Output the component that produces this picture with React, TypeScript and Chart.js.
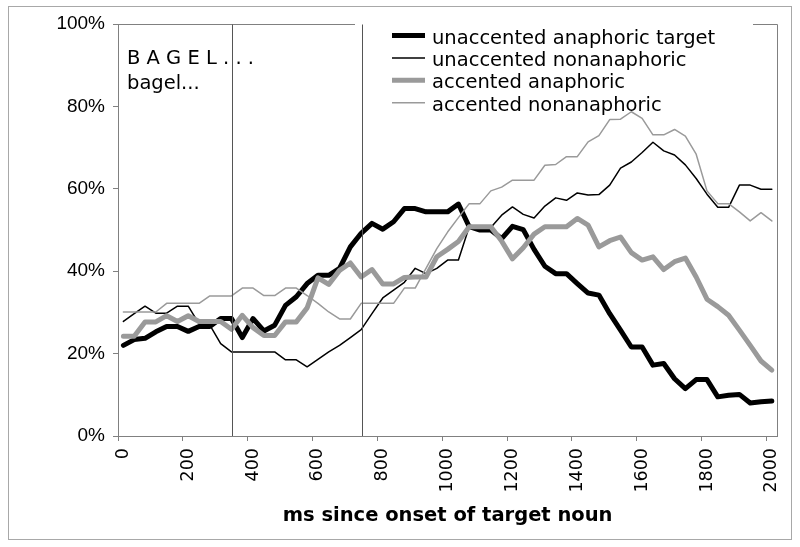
import React, { useEffect, useRef } from "react";
import { Chart, registerables } from "chart.js";

Chart.register(...registerables);

// ---- data -------------------------------------------------------------
const msCategories = [
  "0", "33", "67", "100", "133", "167", "200", "233", "267", "300",
  "333", "367", "400", "433", "467", "500", "533", "567", "600", "633",
  "667", "700", "733", "767", "800", "833", "867", "900", "933", "967",
  "1000", "1033", "1067", "1100", "1133", "1167", "1200", "1233", "1267", "1300",
  "1333", "1367", "1400", "1433", "1467", "1500", "1533", "1567", "1600", "1633",
  "1667", "1700", "1733", "1767", "1800", "1833", "1867", "1900", "1933", "1967",
  "2000",
];

const shownTickLabels = ["0", "200", "400", "600", "800", "1000", "1200", "1400", "1600", "1800", "2000"];

const percentTicks = [0, 20, 40, 60, 80, 100];

const unaccentedAnaphoricTarget = [
  22, 23.4, 23.7, 25.3, 26.6, 26.6, 25.4, 26.6, 26.6, 28.5,
  28.5, 23.9, 28.5, 25.5, 26.9, 31.7, 33.8, 37, 39, 39,
  40.7, 45.9, 49.2, 51.6, 50.2, 52, 55.2, 55.2, 54.4, 54.4,
  54.4, 56.3, 50.8, 50, 50, 47.9, 50.9, 50.1, 45.3, 41.2,
  39.4, 39.4, 37, 34.7, 34.2, 29.7, 25.7, 21.6, 21.6, 17.2,
  17.6, 13.9, 11.5, 13.7, 13.7, 9.5, 9.9, 10.1, 8, 8.3,
  8.5,
];

const unaccentedNonanaphoric = [
  27.8, 29.7, 31.5, 29.8, 29.8, 31.5, 31.5, 27.2, 26.9, 22.4,
  20.4, 20.4, 20.4, 20.4, 20.4, 18.5, 18.5, 16.8, 18.6, 20.4,
  22, 23.9, 25.8, 29.7, 33.5, 35.4, 37.3, 40.7, 39.4, 40.7,
  42.7, 42.7, 50.8, 50.6, 50.6, 53.6, 55.6, 53.8, 52.9, 55.8,
  57.8, 57.2, 59, 58.5, 58.6, 60.9, 65, 66.5, 68.8, 71.3,
  69.2, 68.2, 65.8, 62.5, 58.7, 55.5, 55.5, 60.9, 60.9, 59.9,
  59.9,
];

const accentedAnaphoric = [
  24.2, 24.2, 27.7, 27.7, 29.2, 27.8, 29.2, 27.8, 27.8, 27.8,
  25.9, 29.3, 26.3, 24.4, 24.4, 27.7, 27.7, 31.1, 38.4, 36.8,
  40.2, 42, 38.6, 40.4, 36.9, 36.9, 38.5, 38.6, 38.6, 43.5,
  45.3, 47.2, 50.8, 50.8, 50.8, 47.3, 43, 45.7, 49, 50.8,
  50.8, 50.8, 52.8, 51.2, 45.9, 47.4, 48.3, 44.5, 42.7, 43.5,
  40.4, 42.3, 43.2, 38.6, 33.2, 31.4, 29.3, 25.7, 22, 18.2,
  16,
];

const accentedNonanaphoric = [
  30.1, 30.1, 30.1, 30.1, 32.2, 32.2, 32.2, 32.2, 34, 34,
  34, 35.9, 35.9, 34.1, 34.1, 35.9, 35.9, 34.1, 32.2, 30.1,
  28.4, 28.4, 32.2, 32.2, 32.2, 32.2, 35.9, 35.9, 40.7, 45.5,
  49.5, 53, 56.4, 56.4, 59.5, 60.4, 62.1, 62.1, 62.1, 65.7,
  65.9, 67.8, 67.8, 71.4, 72.9, 76.8, 76.9, 78.7, 77.1, 73.1,
  73.1, 74.4, 72.8, 68.4, 59.5, 56.4, 56.4, 54.4, 52.2, 54.2,
  52.2,
];

const seriesLabels = [
  "unaccented anaphoric target",
  "unaccented nonanaphoric",
  "accented anaphoric",
  "accented nonanaphoric",
];

const regionBoundariesMs = [335, 735];
const regionTextLines = ["B A G E L . . .", "bagel..."];
const xAxisTitle = "ms since onset of target noun";

// ---- styles -----------------------------------------------------------
const BLACK = "#000000";
const GREY = "#9a9a9a";
const AXIS = "#808080";
const TEXT_FONT = "DejaVu Sans";

const decorPlugin = {
  id: "decor",
  beforeDraw(chart: any) {
    const ctx = chart.ctx;
    ctx.save();
    ctx.fillStyle = "#ffffff";
    ctx.fillRect(0, 0, chart.width, chart.height);
    ctx.strokeStyle = "#a8a8a8";
    ctx.lineWidth = 1;
    ctx.strokeRect(8.5, 6.5, 783, 533);
    ctx.restore();
  },
  afterDatasetsDraw(chart: any) {
    const ctx = chart.ctx;
    const a = chart.chartArea;
    const x = chart.scales.x;
    const top = Math.round(a.top) + 0.5;
    const right = Math.round(a.right) + 0.5;
    ctx.save();

    // plot frame: top (interrupted by legend) and right edge
    ctx.strokeStyle = AXIS;
    ctx.lineWidth = 1;
    ctx.beginPath();
    ctx.moveTo(a.left, top);
    ctx.lineTo(a.left + 237, top);
    ctx.moveTo(a.left + 635, top);
    ctx.lineTo(right, top);
    ctx.lineTo(right, a.bottom);
    ctx.stroke();

    // legend
    const ds = chart.data.datasets;
    const legendLineX = a.left + 274;
    const legendTextX = a.left + 314;
    ctx.font = `19.5px "${TEXT_FONT}"`;
    ctx.textBaseline = "alphabetic";
    ctx.textAlign = "left";
    ds.forEach((d: any, i: number) => {
      const base = a.top + 19.5 + i * 22.4;
      ctx.strokeStyle = d.borderColor;
      ctx.lineWidth = d.borderWidth;
      ctx.lineCap = "butt";
      ctx.beginPath();
      ctx.moveTo(legendLineX, base - 8);
      ctx.lineTo(legendLineX + 33, base - 8);
      ctx.stroke();
      ctx.fillStyle = "#000";
      ctx.fillText(d.label, legendTextX, base);
    });

    // annotation text
    ctx.fillStyle = "#000";
    regionTextLines.forEach((t, i) => {
      ctx.fillText(t, a.left + 9, a.top + 40 + i * 25);
    });

    // vertical boundary lines
    const p0 = x.getPixelForValue(0);
    const p1 = x.getPixelForValue(msCategories.length - 1);
    const msMax = Number(msCategories[msCategories.length - 1]);
    ctx.strokeStyle = "#555555";
    ctx.lineWidth = 1;
    regionBoundariesMs.forEach((ms) => {
      const px = Math.round(p0 + (ms / msMax) * (p1 - p0)) + 0.5;
      ctx.beginPath();
      ctx.moveTo(px, top);
      ctx.lineTo(px, a.bottom);
      ctx.stroke();
    });
    ctx.restore();
  },
};

export default function App() {
  const canvasRef = useRef<HTMLCanvasElement | null>(null);

  useEffect(() => {
    const canvas = canvasRef.current;
    if (!canvas) return;
    const mk = (label: string, data: number[], color: string, width: number, order: number) => ({
      label,
      data,
      borderColor: color,
      backgroundColor: color,
      borderWidth: width,
      pointRadius: 0,
      pointHoverRadius: 0,
      tension: 0,
      fill: false,
      borderJoinStyle: "round" as const,
      borderCapStyle: "round" as const,
      order,
    });
    const chart = new Chart(canvas, {
      type: "line",
      data: {
        labels: msCategories,
        datasets: [
          mk(seriesLabels[0], unaccentedAnaphoricTarget, BLACK, 5, 4),
          mk(seriesLabels[1], unaccentedNonanaphoric, BLACK, 1.5, 3),
          mk(seriesLabels[2], accentedAnaphoric, GREY, 5, 2),
          mk(seriesLabels[3], accentedNonanaphoric, GREY, 1.5, 1),
        ],
      },
      options: {
        responsive: false,
        animation: false,
        events: [],
        layout: { padding: { top: 24, right: 22, left: 0, bottom: 0 } },
        plugins: {
          legend: { display: false },
          tooltip: { enabled: false },
          title: { display: false },
        },
        scales: {
          x: {
            type: "category",
            offset: true,
            grid: {
              offset: true,
              drawOnChartArea: false,
              drawTicks: true,
              tickLength: 5,
              color: AXIS,
              tickColor: (c: any) =>
                shownTickLabels.includes(msCategories[c.index]) ? AXIS : "rgba(0,0,0,0)",
            },
            border: { display: true, color: AXIS, width: 1 },
            ticks: {
              autoSkip: false,
              maxRotation: 90,
              minRotation: 90,
              padding: 7,
              color: "#000",
              font: { family: TEXT_FONT, size: 17.5 },
              callback: (_v: any, index: number) => {
                const lbl = msCategories[index];
                return shownTickLabels.includes(lbl) ? lbl : "";
              },
            },
            title: {
              display: true,
              text: xAxisTitle,
              color: "#000",
              font: { family: TEXT_FONT, size: 19.5, weight: "bold" },
              padding: { top: 0, bottom: 19 },
            },
            afterFit: (scale: any) => {
              scale.height = 111;
            },
          },
          y: {
            min: 0,
            max: 100,
            grid: {
              drawOnChartArea: false,
              drawTicks: true,
              tickLength: 5,
              color: AXIS,
              tickColor: AXIS,
            },
            border: { display: true, color: AXIS, width: 1 },
            afterBuildTicks: (scale: any) => {
              scale.ticks = percentTicks.map((v) => ({ value: v }));
            },
            ticks: {
              padding: 8,
              color: "#000",
              font: { family: "Liberation Sans", size: 19 },
              callback: (v: any) => `${v}%`,
            },
            afterFit: (scale: any) => {
              scale.width = 118;
            },
          },
        },
      },
      plugins: [decorPlugin],
    });
    return () => chart.destroy();
  }, []);

  return (
    <div style={{ position: "fixed", left: 0, top: 0, width: 800, height: 547, background: "#fff" }}>
      <canvas ref={canvasRef} width={800} height={547} style={{ display: "block" }} />
    </div>
  );
}
